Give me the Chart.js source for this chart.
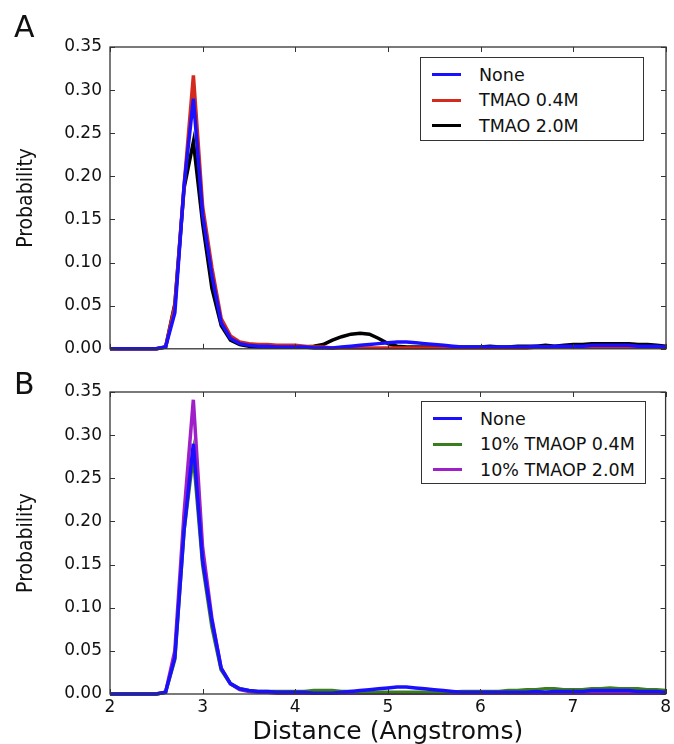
<!DOCTYPE html>
<html>
<head>
<meta charset="utf-8">
<script src="https://cdn.jsdelivr.net/npm/chart.js@4.4.1/dist/chart.umd.min.js"></script>
<style>
  body { margin: 0; background: #fff; }
  #wrap { position: relative; width: 674px; height: 744px; overflow: hidden; font-family: "DejaVu Sans", sans-serif; }
  canvas { position: absolute; left: 0; }
  .panel { position: absolute; font-size: 30px; color: #111; line-height: 1; }
  .legend { position: absolute; background: #fff; border: 1.3px solid #333; box-sizing: border-box; padding-top: 4px; }
  .legend .row { height: 25.5px; display: flex; align-items: center; font-size: 17.5px; color: #111; }
  .legend .sw { display: inline-block; width: 29px; height: 3px; margin-left: 11px; margin-right: 18px; }
</style>
</head>
<body>
<div id="wrap">
  <canvas id="chartA" width="674" height="367" style="top:0"></canvas>
  <canvas id="chartB" width="674" height="380" style="top:367px"></canvas>
  <div class="panel" style="left:14px; top:12px">A</div>
  <div class="panel" style="left:14px; top:369px">B</div>
  <div class="legend" id="legendA" style="left:420px; top:57px; width:224px; height:84px"></div>
  <div class="legend" id="legendB" style="left:421px; top:401px; width:225px; height:83px"></div>
</div>
<script>
// distance values (Angstroms)
const distance = [2.0, 2.1, 2.2, 2.3, 2.4, 2.5, 2.6, 2.7, 2.8, 2.9,
  3.0, 3.1, 3.2, 3.3, 3.4, 3.5, 3.6, 3.7, 3.8, 3.9,
  4.0, 4.1, 4.2, 4.3, 4.4, 4.5, 4.6, 4.7, 4.8, 4.9,
  5.0, 5.1, 5.2, 5.3, 5.4, 5.5, 5.6, 5.7, 5.8, 5.9,
  6.0, 6.1, 6.2, 6.3, 6.4, 6.5, 6.6, 6.7, 6.8, 6.9,
  7.0, 7.1, 7.2, 7.3, 7.4, 7.5, 7.6, 7.7, 7.8, 7.9, 8.0];

const probNone = [0, 0, 0, 0, 0, 0, 0.002, 0.042, 0.19, 0.29,
  0.155, 0.085, 0.03, 0.012, 0.006, 0.004, 0.003, 0.003, 0.002, 0.002,
  0.002, 0.002, 0.001, 0.001, 0.001, 0.002, 0.003, 0.004, 0.005, 0.006,
  0.007, 0.008, 0.008, 0.007, 0.006, 0.005, 0.004, 0.003, 0.002, 0.002,
  0.002, 0.002, 0.002, 0.002, 0.002, 0.002, 0.003, 0.002, 0.003, 0.003,
  0.003, 0.003, 0.004, 0.004, 0.004, 0.004, 0.004, 0.003, 0.003, 0.003, 0.002];

const probTmao04 = [0, 0, 0, 0, 0, 0, 0.002, 0.05, 0.19, 0.317,
  0.165, 0.094, 0.035, 0.015, 0.008, 0.006, 0.005, 0.005, 0.004, 0.004,
  0.004, 0.003, 0.002, 0.002, 0.001, 0.001, 0.001, 0.001, 0.001, 0.001,
  0.001, 0.001, 0.001, 0.001, 0.001, 0.001, 0.001, 0.001, 0.001, 0.001,
  0.001, 0.001, 0.001, 0.001, 0.001, 0.001, 0.002, 0.002, 0.002, 0.002,
  0.002, 0.002, 0.002, 0.002, 0.002, 0.002, 0.002, 0.002, 0.002, 0.002, 0.001];

const probTmao20 = [0, 0, 0, 0, 0, 0, 0.002, 0.052, 0.187, 0.24,
  0.145, 0.07, 0.027, 0.01, 0.005, 0.003, 0.002, 0.002, 0.002, 0.002,
  0.002, 0.002, 0.003, 0.005, 0.01, 0.014, 0.017, 0.018, 0.017, 0.012,
  0.006, 0.003, 0.002, 0.002, 0.002, 0.002, 0.002, 0.002, 0.002, 0.002,
  0.002, 0.003, 0.002, 0.002, 0.003, 0.003, 0.003, 0.004, 0.003, 0.004,
  0.005, 0.005, 0.006, 0.006, 0.006, 0.006, 0.006, 0.005, 0.005, 0.004, 0.003];

const probTmaop04 = [0, 0, 0, 0, 0, 0, 0.002, 0.04, 0.19, 0.277,
  0.15, 0.078, 0.028, 0.012, 0.006, 0.004, 0.003, 0.003, 0.003, 0.003,
  0.003, 0.003, 0.004, 0.004, 0.004, 0.003, 0.003, 0.002, 0.002, 0.002,
  0.002, 0.002, 0.002, 0.002, 0.002, 0.002, 0.002, 0.002, 0.003, 0.003,
  0.003, 0.003, 0.003, 0.004, 0.004, 0.005, 0.005, 0.006, 0.006, 0.005,
  0.005, 0.005, 0.006, 0.006, 0.007, 0.006, 0.006, 0.006, 0.005, 0.005, 0.004];

const probTmaop20 = [0, 0, 0, 0, 0, 0, 0.002, 0.05, 0.21, 0.341,
  0.17, 0.088, 0.03, 0.012, 0.005, 0.003, 0.002, 0.002, 0.001, 0.001,
  0.001, 0.001, 0.001, 0.001, 0.001, 0.001, 0.001, 0.001, 0.001, 0.001,
  0.001, 0.001, 0.001, 0.001, 0.001, 0.001, 0.001, 0.001, 0.001, 0.001,
  0.001, 0.001, 0.001, 0.001, 0.001, 0.001, 0.001, 0.001, 0.001, 0.001,
  0.001, 0.001, 0.001, 0.001, 0.001, 0.001, 0.001, 0.001, 0.001, 0.001, 0.001];

const yTicks = [0, 0.05, 0.10, 0.15, 0.20, 0.25, 0.30, 0.35];
const xTicks = [2, 3, 4, 5, 6, 7, 8];

const labelsA = ['None', 'TMAO 0.4M', 'TMAO 2.0M'];
const labelsB = ['None', '10% TMAOP 0.4M', '10% TMAOP 2.0M'];
const colorsA = ['#1a10ff', '#d42a1e', '#000000'];
const colorsB = ['#1a10ff', '#3a7d1c', '#a020c8'];

function points(ys) {
  return distance.map((d, i) => ({ x: d, y: ys[i] }));
}

function makeDatasets(labels, colors, series) {
  return series.map((s, i) => ({
    label: labels[i],
    data: points(s),
    borderColor: colors[i],
    borderWidth: 3.5,
    pointRadius: 0,
    tension: 0,
    clip: false
  }));
}

// box around plot + inward ticks on all four sides, like matplotlib
const frame = {
  id: 'frame',
  afterDatasetsDraw(chart) {
    const ctx = chart.ctx, a = chart.chartArea;
    const xs = chart.scales.x, ys = chart.scales.y;
    ctx.save();
    ctx.strokeStyle = '#333';
    ctx.lineWidth = 1.3;
    ctx.strokeRect(a.left, a.top, a.right - a.left, a.bottom - a.top);
    ctx.lineWidth = 1;
    ctx.beginPath();
    xTicks.forEach(v => {
      const px = Math.round(xs.getPixelForValue(v)) + 0.5;
      ctx.moveTo(px, a.bottom); ctx.lineTo(px, a.bottom - 5);
      ctx.moveTo(px, a.top); ctx.lineTo(px, a.top + 5);
    });
    yTicks.forEach(v => {
      const py = Math.round(ys.getPixelForValue(v)) + 0.5;
      ctx.moveTo(a.left, py); ctx.lineTo(a.left + 5, py);
      ctx.moveTo(a.right, py); ctx.lineTo(a.right - 5, py);
    });
    ctx.stroke();
    ctx.restore();
  }
};

function makeChart(id, datasets, showX, padTop, xHeight, padBottom) {
  return new Chart(document.getElementById(id), {
    type: 'line',
    data: { datasets: datasets },
    options: {
      responsive: false,
      animation: false,
      devicePixelRatio: 1,
      layout: { padding: { top: padTop, right: 8, bottom: padBottom, left: 0 } },
      plugins: { legend: { display: false }, tooltip: { enabled: false } },
      scales: {
        x: {
          type: 'linear', min: 2, max: 8,
          afterBuildTicks: s => { s.ticks = xTicks.map(v => ({ value: v })); },
          afterFit: s => { s.height = xHeight; },
          ticks: { display: showX, padding: 3, color: '#111', font: { family: 'DejaVu Sans', size: 17 } },
          grid: { display: false, drawTicks: false },
          border: { display: false },
          title: {
            display: showX, text: 'Distance (Angstroms)', color: '#111',
            font: { family: 'DejaVu Sans', size: 25 }, padding: 0
          }
        },
        y: {
          min: 0, max: 0.35,
          afterBuildTicks: s => { s.ticks = yTicks.map(v => ({ value: v })); },
          afterFit: s => { s.width = 110; },
          ticks: {
            padding: 8, color: '#111', font: { family: 'DejaVu Sans', size: 17 },
            callback: v => v.toFixed(2)
          },
          grid: { display: false, drawTicks: false },
          border: { display: false },
          title: {
            display: true, text: 'Probability', color: '#111',
            font: { family: 'DejaVu Sans Condensed', size: 21 }, padding: { top: 14, bottom: 0 }
          }
        }
      }
    },
    plugins: [frame]
  });
}

makeChart('chartA', makeDatasets(labelsA, colorsA, [probNone, probTmao04, probTmao20]), false, 47, 0, 10);
makeChart('chartB', makeDatasets(labelsB, colorsB, [probNone, probTmaop04, probTmaop20]), true, 25, 53, 0);

function buildLegend(id, labels, colors) {
  const box = document.getElementById(id);
  labels.forEach((t, i) => {
    const row = document.createElement('div');
    row.className = 'row';
    const sw = document.createElement('span');
    sw.className = 'sw';
    sw.style.background = colors[i];
    row.appendChild(sw);
    row.appendChild(document.createTextNode(t));
    box.appendChild(row);
  });
}
buildLegend('legendA', labelsA, colorsA);
buildLegend('legendB', labelsB, colorsB);
</script>
</body>
</html>
